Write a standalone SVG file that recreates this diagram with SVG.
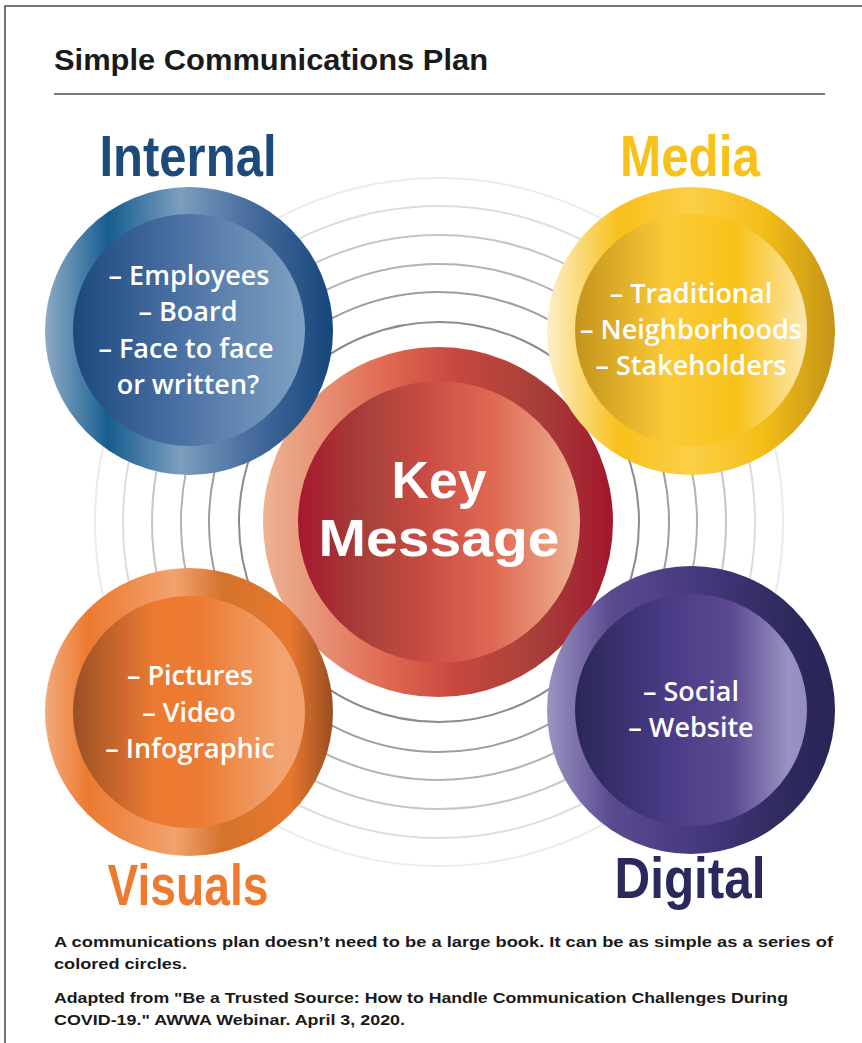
<svg xmlns="http://www.w3.org/2000/svg" width="862" height="1043" viewBox="0 0 862 1043">
  <style>
    .title { font-family: "Liberation Sans", Arial, sans-serif; font-weight: bold; font-size: 30px; fill: #1a1a1a; }
    .label { font-family: "Liberation Sans", Arial, sans-serif; font-weight: bold; font-size: 57px; text-anchor: middle; }
    .item { font-family: "Open Sans", "Liberation Sans", sans-serif; font-weight: 600; font-size: 27px; fill: #ffffff; text-anchor: middle; }
    .key { font-family: "Liberation Sans", Arial, sans-serif; font-weight: bold; font-size: 52px; fill: #ffffff; text-anchor: middle; }
    .note { font-family: "Liberation Sans", Arial, sans-serif; font-weight: bold; font-size: 15.5px; fill: #1a1a1a; }
    .ring { fill: none; stroke-width: 2; }
  </style>
  <defs>
    <!-- Internal (blue) -->
    <linearGradient id="blueOuter" x1="0" y1="0" x2="1" y2="0">
      <stop offset="0" stop-color="#8eabc8"/>
      <stop offset="0.22" stop-color="#165d8f"/>
      <stop offset="0.47" stop-color="#7c9ebe"/>
      <stop offset="0.7" stop-color="#4a6ea0"/>
      <stop offset="1" stop-color="#16467a"/>
    </linearGradient>
    <linearGradient id="blueInner" x1="0" y1="0" x2="1" y2="0">
      <stop offset="0" stop-color="#1c487c"/>
      <stop offset="0.45" stop-color="#4a70a3"/>
      <stop offset="1" stop-color="#7ea1c2"/>
    </linearGradient>
    <!-- Media (gold) -->
    <linearGradient id="goldOuter" x1="0" y1="0" x2="1" y2="0">
      <stop offset="0" stop-color="#fdf0c8"/>
      <stop offset="0.25" stop-color="#f7c01a"/>
      <stop offset="0.5" stop-color="#fccf48"/>
      <stop offset="0.75" stop-color="#f4be17"/>
      <stop offset="1" stop-color="#c49418"/>
    </linearGradient>
    <linearGradient id="goldInner" x1="0" y1="0" x2="1" y2="0">
      <stop offset="0" stop-color="#c4931c"/>
      <stop offset="0.4" stop-color="#fbcb38"/>
      <stop offset="0.7" stop-color="#f8c21a"/>
      <stop offset="1" stop-color="#fde8b2"/>
    </linearGradient>
    <!-- Key message (red) -->
    <linearGradient id="redOuter" x1="0" y1="0" x2="1" y2="0">
      <stop offset="0" stop-color="#edb493"/>
      <stop offset="0.35" stop-color="#e06a52"/>
      <stop offset="0.55" stop-color="#c8473f"/>
      <stop offset="0.78" stop-color="#a8403a"/>
      <stop offset="1" stop-color="#a3162e"/>
    </linearGradient>
    <linearGradient id="redInner" x1="0" y1="0" x2="1" y2="0">
      <stop offset="0" stop-color="#a6182f"/>
      <stop offset="0.25" stop-color="#a8423a"/>
      <stop offset="0.45" stop-color="#c94c43"/>
      <stop offset="0.7" stop-color="#e06a55"/>
      <stop offset="1" stop-color="#edb393"/>
    </linearGradient>
    <!-- Visuals (orange) -->
    <linearGradient id="orangeOuter" x1="0" y1="0" x2="1" y2="0">
      <stop offset="0" stop-color="#f3aa7b"/>
      <stop offset="0.15" stop-color="#ec7a30"/>
      <stop offset="0.45" stop-color="#f2a26e"/>
      <stop offset="0.62" stop-color="#d4722b"/>
      <stop offset="0.85" stop-color="#e8782f"/>
      <stop offset="1" stop-color="#9a4e22"/>
    </linearGradient>
    <linearGradient id="orangeInner" x1="0" y1="0" x2="1" y2="0">
      <stop offset="0" stop-color="#9a5026"/>
      <stop offset="0.35" stop-color="#ec7a31"/>
      <stop offset="0.55" stop-color="#ec7b33"/>
      <stop offset="0.9" stop-color="#f2a470"/>
      <stop offset="1" stop-color="#f0a06b"/>
    </linearGradient>
    <!-- Digital (purple) -->
    <linearGradient id="purpleOuter" x1="0" y1="0" x2="1" y2="0">
      <stop offset="0" stop-color="#9c94c3"/>
      <stop offset="0.22" stop-color="#5c4a90"/>
      <stop offset="0.5" stop-color="#483a80"/>
      <stop offset="0.8" stop-color="#302b60"/>
      <stop offset="1" stop-color="#282456"/>
    </linearGradient>
    <linearGradient id="purpleInner" x1="0" y1="0" x2="1" y2="0">
      <stop offset="0" stop-color="#2a2757"/>
      <stop offset="0.4" stop-color="#4a3b86"/>
      <stop offset="0.68" stop-color="#5c4a92"/>
      <stop offset="0.92" stop-color="#9a92c1"/>
      <stop offset="1" stop-color="#948cbd"/>
    </linearGradient>
  </defs>

  <rect x="0" y="0" width="862" height="1043" fill="#ffffff"/>

  <!-- page frame: top and left edges -->
  <path d="M5 1043 V6 H862" fill="none" stroke="#4a4a4a" stroke-width="1.5"/>

  <!-- heading -->
  <text class="title" x="54" y="70" textLength="434" lengthAdjust="spacingAndGlyphs">Simple Communications Plan</text>
  <line x1="54" y1="94" x2="825" y2="94" stroke="#4d4d4d" stroke-width="1.5"/>

  <!-- concentric rings radiating from the key message -->
  <g id="rings">
    <circle class="ring" cx="439" cy="522" r="344" stroke="#ececec"/>
    <circle class="ring" cx="439" cy="522" r="316" stroke="#dcdcdc"/>
    <circle class="ring" cx="439" cy="522" r="287" stroke="#c6c6c8"/>
    <circle class="ring" cx="439" cy="522" r="258" stroke="#b2b2b5"/>
    <circle class="ring" cx="439" cy="522" r="230" stroke="#9d9da1"/>
    <circle class="ring" cx="439" cy="522" r="200" stroke="#8a8a8f"/>
  </g>

  <!-- Key Message -->
  <g id="key-message">
    <circle cx="438" cy="522" r="175" fill="url(#redOuter)"/>
    <circle cx="439" cy="522" r="141" fill="url(#redInner)"/>
    <text class="key" x="439" y="498" textLength="95" lengthAdjust="spacingAndGlyphs">Key</text>
    <text class="key" x="439" y="556" textLength="241" lengthAdjust="spacingAndGlyphs">Message</text>
  </g>

  <!-- Internal -->
  <g id="internal">
    <text class="label" x="188" y="176" fill="#1b4a7b" textLength="177" lengthAdjust="spacingAndGlyphs">Internal</text>
    <circle cx="189" cy="331" r="144" fill="url(#blueOuter)"/>
    <circle cx="189" cy="330" r="116" fill="url(#blueInner)"/>
    <text class="item" x="189" y="285">– Employees</text>
    <text class="item" x="188" y="321">– Board</text>
    <text class="item" x="186" y="358">– Face to face</text>
    <text class="item" x="188" y="394">or written?</text>
  </g>

  <!-- Media -->
  <g id="media">
    <text class="label" x="690" y="176" fill="#f8c11a" textLength="140" lengthAdjust="spacingAndGlyphs">Media</text>
    <circle cx="691" cy="331" r="144" fill="url(#goldOuter)"/>
    <circle cx="691" cy="330" r="116" fill="url(#goldInner)"/>
    <text class="item" x="691" y="303">– Traditional</text>
    <text class="item" x="691" y="339">– Neighborhoods</text>
    <text class="item" x="691" y="375">– Stakeholders</text>
  </g>

  <!-- Visuals -->
  <g id="visuals">
    <circle cx="189" cy="712" r="144" fill="url(#orangeOuter)"/>
    <circle cx="189" cy="712" r="116" fill="url(#orangeInner)"/>
    <text class="item" x="190" y="685">– Pictures</text>
    <text class="item" x="189" y="722">– Video</text>
    <text class="item" x="190" y="758">– Infographic</text>
    <text class="label" x="188" y="905" fill="#ee7a30" textLength="161" lengthAdjust="spacingAndGlyphs">Visuals</text>
  </g>

  <!-- Digital -->
  <g id="digital">
    <circle cx="691" cy="710" r="144" fill="url(#purpleOuter)"/>
    <circle cx="691" cy="710" r="116" fill="url(#purpleInner)"/>
    <text class="item" x="691" y="701">– Social</text>
    <text class="item" x="691" y="737">– Website</text>
    <text class="label" x="690" y="898" fill="#2a285c" textLength="151" lengthAdjust="spacingAndGlyphs">Digital</text>
  </g>

  <!-- notes -->
  <g id="notes">
    <text class="note" x="54" y="947" textLength="779" lengthAdjust="spacingAndGlyphs">A communications plan doesn’t need to be a large book. It can be as simple as a series of</text>
    <text class="note" x="54" y="969" textLength="133" lengthAdjust="spacingAndGlyphs">colored circles.</text>
    <text class="note" x="54" y="1003" textLength="734" lengthAdjust="spacingAndGlyphs">Adapted from "Be a Trusted Source: How to Handle Communication Challenges During</text>
    <text class="note" x="54" y="1025" textLength="351" lengthAdjust="spacingAndGlyphs">COVID-19." AWWA Webinar. April 3, 2020.</text>
  </g>
</svg>
